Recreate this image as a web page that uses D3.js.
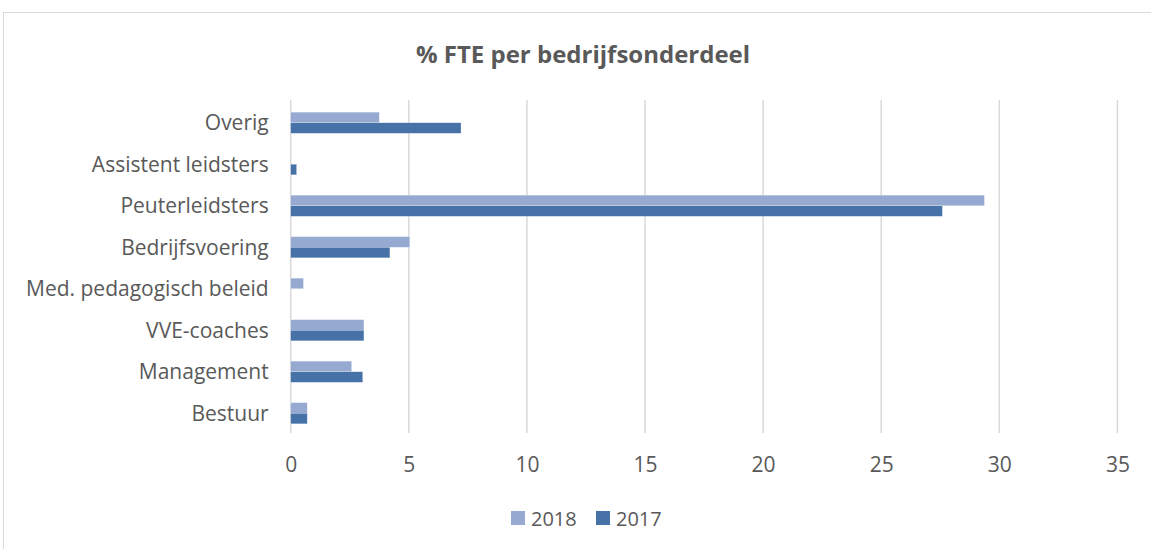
<!DOCTYPE html>
<html><head><meta charset="utf-8">
<script src="https://cdn.jsdelivr.net/npm/d3@7/dist/d3.min.js"></script>
<style>body{margin:0;background:#fff;} text{font-family:"Open Sans",sans-serif;}</style>
</head><body><svg id="c" width="1151" height="549"></svg>
<script>
const categories = ["Overig","Assistent leidsters","Peuterleidsters","Bedrijfsvoering","Med. pedagogisch beleid","VVE-coaches","Management","Bestuur"];
const series = ["2018","2017"];
const values2018 = [3.75, 0, 29.37, 5.04, 0.54, 3.1, 2.58, 0.7];
const values2017 = [7.21, 0.25, 27.59, 4.2, 0, 3.1, 3.05, 0.7];
const xTicks = [0,5,10,15,20,25,30,35];
const colors = {"2018":"#95a9d1","2017":"#4672a8"};

const svg = d3.select("#c");
svg.append("rect").attr("x",3.5).attr("y",12.5).attr("width",1160).attr("height",560)
  .attr("fill","#fff").attr("stroke","#d9d9d9").attr("stroke-width",1);

svg.append("text").attr("x",583).attr("y",63).attr("text-anchor","middle")
  .attr("font-size",24).attr("font-weight","bold").attr("fill","#595959")
  .text("% FTE per bedrijfsonderdeel");

const x = d3.scaleLinear().domain([0,35]).range([290.7,1117.4]);
const y = d3.scaleBand().domain(categories).range([102,434]).paddingInner(0.49).paddingOuter(0.245);
const ys = d3.scaleBand().domain(series).range([0,y.bandwidth()]);

const grid = svg.append("g");
grid.selectAll("line").data(xTicks).join("line")
  .attr("x1",d=>x(d)).attr("x2",d=>x(d)).attr("y1",100).attr("y2",433)
  .attr("stroke","#d9d9d9").attr("stroke-width",1.5);

const data = [];
categories.forEach((c,i)=>{
  data.push({cat:c,s:"2018",v:values2018[i]});
  data.push({cat:c,s:"2017",v:values2017[i]});
});
svg.append("g").selectAll("rect").data(data.filter(d=>d.v>0)).join("rect")
  .attr("x",x(0)).attr("y",d=>y(d.cat)+ys(d.s))
  .attr("width",d=>x(d.v)-x(0)).attr("height",ys.bandwidth())
  .attr("fill",d=>colors[d.s]).attr("stroke","#fff").attr("stroke-opacity",0.5).attr("stroke-width",0.5);

const yAxis = d3.axisLeft(y).tickSize(0).tickPadding(22);
const ga = svg.append("g").attr("transform",`translate(${x(0)},1)`).call(yAxis);
ga.select(".domain").remove();
ga.selectAll("text").attr("font-size",21).attr("fill","#595959").style("font-family","'Open Sans',sans-serif");

const xAxis = d3.axisBottom(x).tickValues(xTicks).tickSize(0).tickPadding(0);
const gx = svg.append("g").attr("transform","translate(0,457)").call(xAxis);
gx.select(".domain").remove();
gx.selectAll("text").attr("font-size",21).attr("fill","#595959").attr("dy","0.71em").style("font-family","'Open Sans',sans-serif");

const leg = svg.append("g");
const legItems = [{s:"2018",x:511},{s:"2017",x:596}];
legItems.forEach(it=>{
  leg.append("rect").attr("x",it.x).attr("y",511).attr("width",14).attr("height",14).attr("fill",colors[it.s]);
  leg.append("text").attr("x",it.x+20).attr("y",526).attr("font-size",20).attr("fill","#595959").text(it.s);
});
</script></body></html>
